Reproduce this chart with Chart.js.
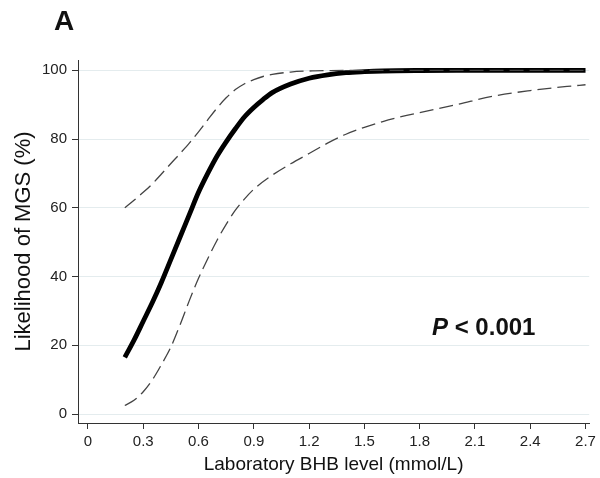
<!DOCTYPE html>
<html>
<head>
<meta charset="utf-8">
<script src="https://cdn.jsdelivr.net/npm/chart.js@4/dist/chart.umd.min.js"></script>
<style>
html,body{margin:0;padding:0;background:#fff;}
#wrap{position:relative;width:600px;height:478px;}
</style>
</head>
<body>
<div id="wrap"><canvas id="c" width="600" height="478"></canvas></div>
<script>
// Data
const mainX = [0.2,0.25,0.3,0.35,0.4,0.45,0.5,0.55,0.6,0.65,0.7,0.75,0.8,0.85,0.9,0.95,1.0,1.1,1.2,1.3,1.4,1.5,1.6,1.8,2.0,2.2,2.4,2.7];
const mainY = [16.5,21.5,27,32.5,38.5,45,51.5,58,64.5,70,75,79.2,83,86.5,89.2,91.5,93.5,96,97.7,98.7,99.3,99.6,99.8,99.95,100,100,100,100];
const upperX = [0.2,0.25,0.3,0.35,0.4,0.45,0.5,0.55,0.6,0.65,0.7,0.75,0.8,0.85,0.9,0.95,1.0,1.1,1.2,1.3,1.5,1.8,2.1,2.4,2.7];
const upperY = [60,62.2,64.5,67,69.9,72.9,75.8,78.8,82.1,85.6,89,92,94.4,96.1,97.3,98.2,98.8,99.5,99.8,99.9,100,100,100,100,100];
const lowerX = [0.2,0.25,0.3,0.35,0.4,0.45,0.5,0.55,0.6,0.65,0.7,0.75,0.8,0.85,0.9,1.0,1.1,1.2,1.3,1.4,1.5,1.6,1.7,1.8,2.0,2.2,2.4,2.6,2.7];
const lowerY = [2.5,4,6.5,10,14.5,19.5,26,33,39.5,45.2,50.5,55.2,59.3,62.6,65.4,69.5,72.8,75.8,78.8,81.4,83.4,85.1,86.5,87.7,90,92.5,94.1,95.3,95.8];
const xTicks = [0,0.3,0.6,0.9,1.2,1.5,1.8,2.1,2.4,2.7];
const xTickLabels = ["0","0.3","0.6","0.9","1.2","1.5","1.8","2.1","2.4","2.7"];
const yTicks = [0,20,40,60,80,100];
const panelLabel = "A";
const pText = ["P", " < 0.001"];

const toPts = (xs, ys) => xs.map((x, i) => ({x: x, y: ys[i]}));
const FONT = "'Liberation Sans', Arial, Helvetica, sans-serif";

const textPlugin = {
  id: 'extraText',
  afterDraw(chart) {
    const ctx = chart.ctx;
    ctx.save();
    ctx.fillStyle = '#111';
    ctx.textBaseline = 'alphabetic';
    ctx.textAlign = 'left';
    ctx.font = 'bold 28px ' + FONT;
    ctx.fillText(panelLabel, 54, 30);
    // P value
    ctx.font = 'italic bold 24px ' + FONT;
    let x0 = 432, yb = 335;
    ctx.fillText(pText[0], x0, yb);
    const w = ctx.measureText(pText[0]).width;
    ctx.font = 'bold 24px ' + FONT;
    ctx.fillText(pText[1], x0 + w, yb);
    ctx.restore();
  }
};

new Chart(document.getElementById('c'), {
  type: 'scatter',
  data: {
    datasets: [
      {data: toPts(upperX, upperY), showLine: true, borderColor: '#444', borderWidth: 1.3, borderDash: [14, 6], pointRadius: 0, cubicInterpolationMode: 'monotone', fill: false},
      {data: toPts(lowerX, lowerY), showLine: true, borderColor: '#444', borderWidth: 1.3, borderDash: [14, 6], pointRadius: 0, cubicInterpolationMode: 'monotone', fill: false},
      {data: toPts(mainX, mainY), showLine: true, borderColor: '#000', borderWidth: 4.8, pointRadius: 0, cubicInterpolationMode: 'monotone', fill: false, borderCapStyle: 'butt'}
    ]
  },
  options: {
    responsive: false,
    animation: false,
    devicePixelRatio: 1,
    layout: {padding: {top: 60, right: 8, left: 0, bottom: 0}},
    plugins: {legend: {display: false}, tooltip: {enabled: false}, title: {display: false}},
    scales: {
      x: {
        type: 'linear',
        min: -0.054, max: 2.72,
        afterBuildTicks: (s) => { s.ticks = xTicks.map(v => ({value: v})); },
        afterFit: (s) => { s.height = 55; },
        ticks: {
          callback: (v) => { const i = xTicks.indexOf(v); return i >= 0 ? xTickLabels[i] : ''; },
          color: '#222', font: {family: FONT, size: 15}, padding: 4, maxRotation: 0, autoSkip: false
        },
        grid: {drawOnChartArea: false, tickColor: '#333', tickLength: 6, tickWidth: 1},
        border: {display: true, color: '#333', width: 1},
        title: {display: true, text: 'Laboratory BHB level (mmol/L)', color: '#111', font: {family: FONT, size: 19}, padding: {top: 2, bottom: 2}}
      },
      y: {
        type: 'linear',
        min: -2.6, max: 103,
        afterBuildTicks: (s) => { s.ticks = yTicks.map(v => ({value: v})); },
        afterFit: (s) => { s.width = 78; },
        ticks: {color: '#222', font: {family: FONT, size: 15}, padding: 5, autoSkip: false},
        grid: {drawOnChartArea: true, color: '#e4ecee', lineWidth: 1, tickColor: '#333', tickLength: 6},
        border: {display: true, color: '#333', width: 1},
        title: {display: true, text: 'Likelihood of MGS (%)', color: '#111', font: {family: FONT, size: 22}, padding: {top: 11, bottom: 4}}
      }
    }
  },
  plugins: [textPlugin]
});
</script>
</body>
</html>
